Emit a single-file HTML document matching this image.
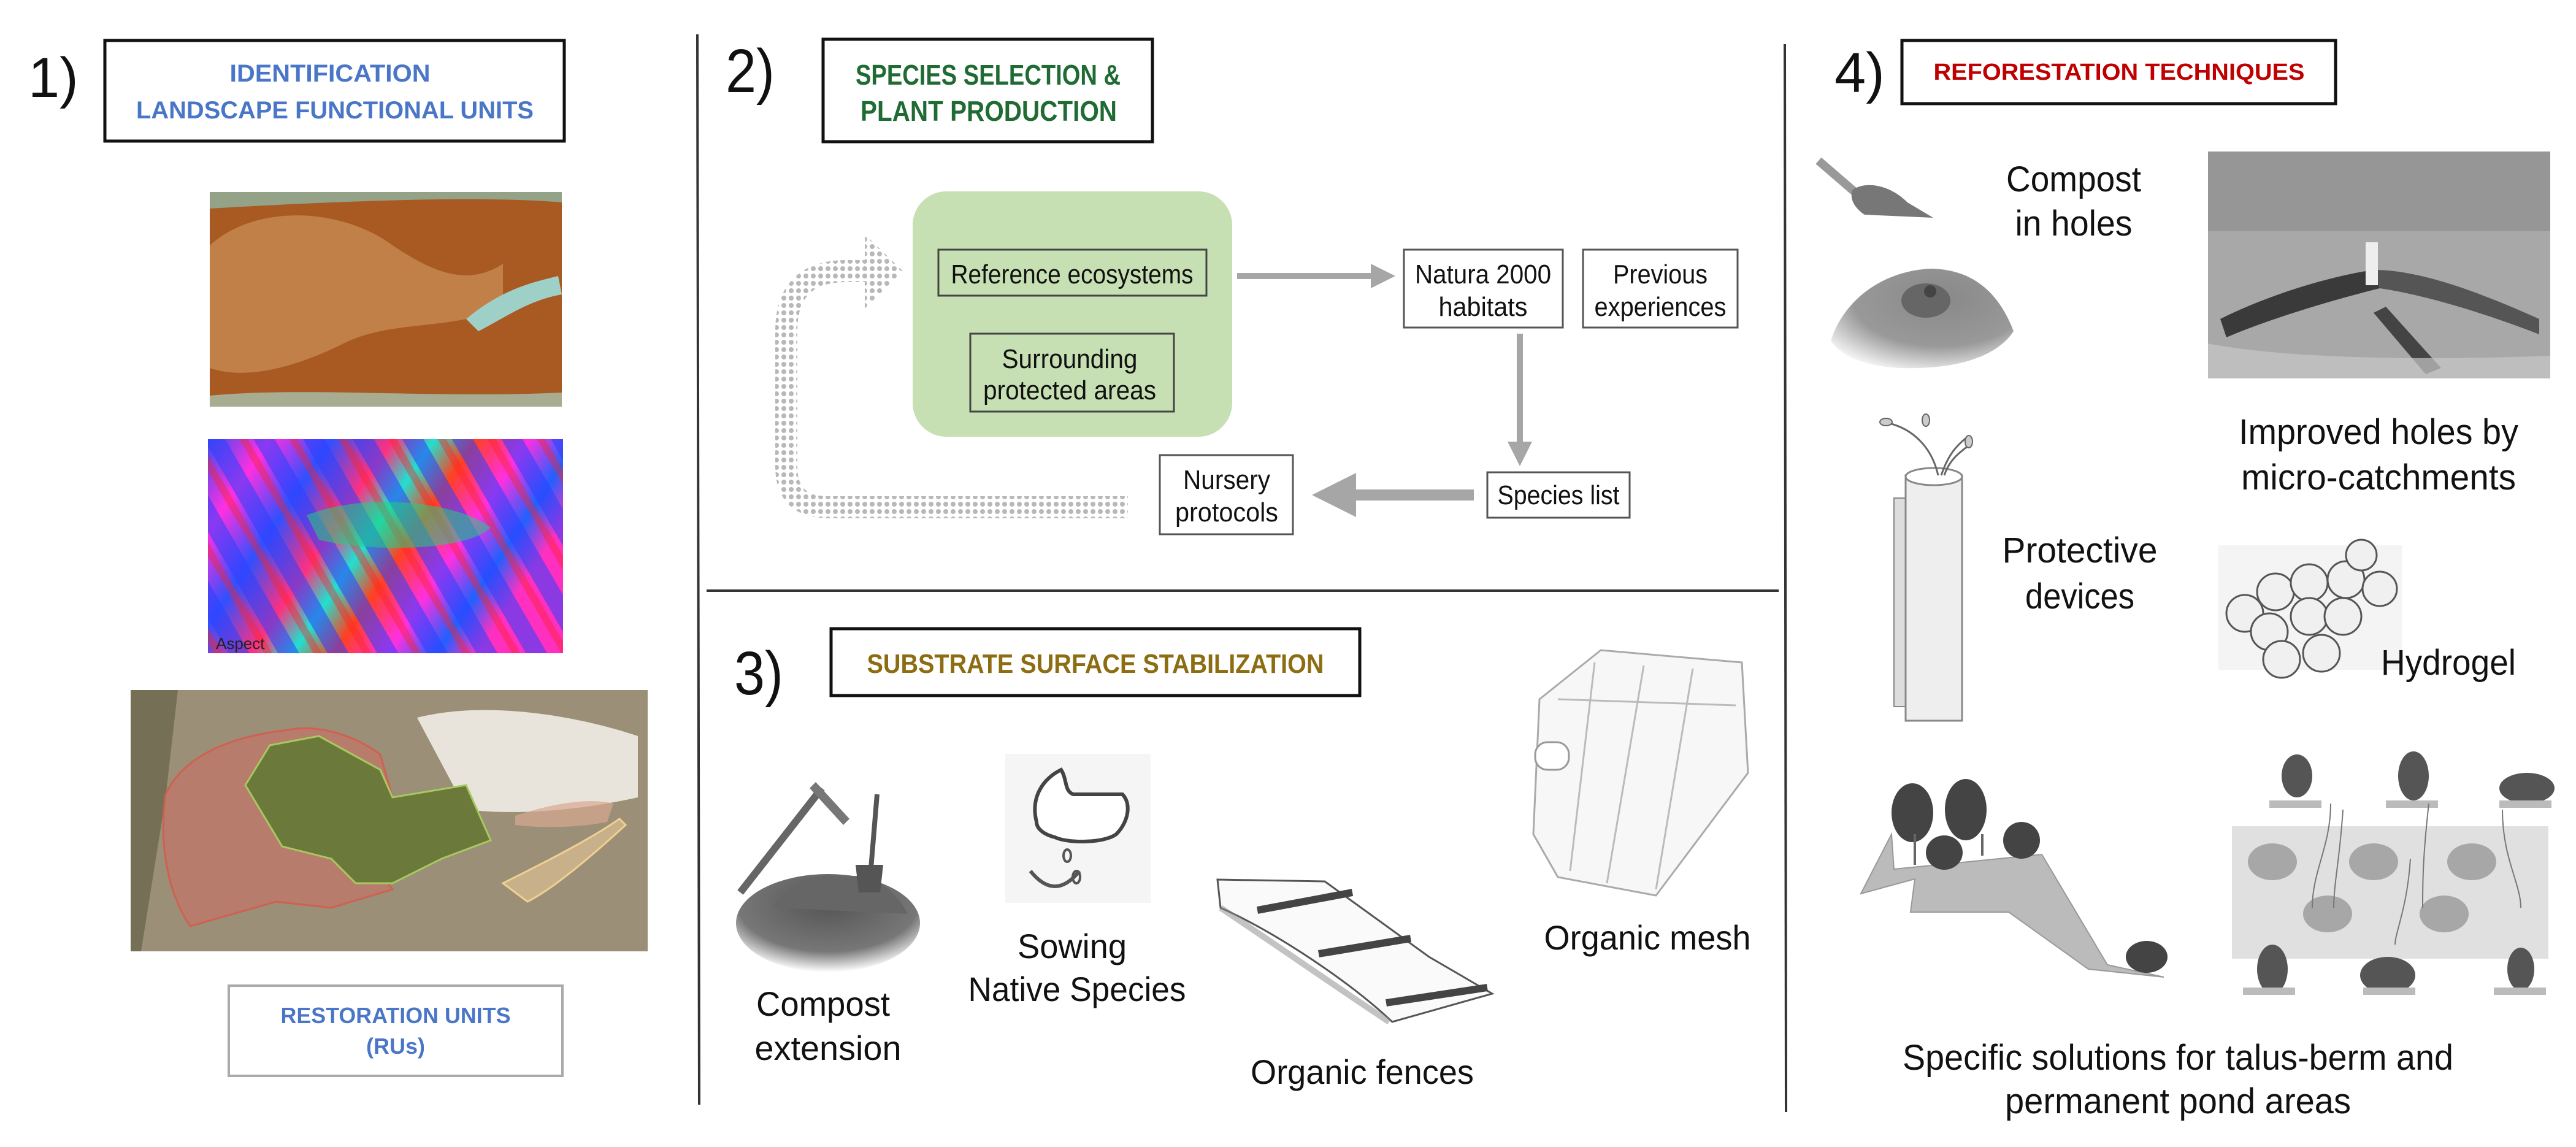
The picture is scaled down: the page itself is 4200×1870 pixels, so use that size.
<!DOCTYPE html>
<html><head><meta charset="utf-8"><style>
html,body{margin:0;padding:0;background:#fff}
svg{display:block}
text{font-family:"Liberation Sans",sans-serif}
</style></head><body>
<svg width="4200" height="1870" viewBox="0 0 4200 1870" xmlns="http://www.w3.org/2000/svg">
<defs>
<linearGradient id="rb" x1="0" y1="0" x2="1" y2="0.4">
<stop offset="0" stop-color="#3a4cf0"/><stop offset="0.15" stop-color="#ff30e0"/><stop offset="0.3" stop-color="#3050ff"/><stop offset="0.45" stop-color="#ff3080"/><stop offset="0.55" stop-color="#20e0d0"/><stop offset="0.65" stop-color="#ff4020"/><stop offset="0.78" stop-color="#ff30e0"/><stop offset="0.9" stop-color="#2060ff"/><stop offset="1" stop-color="#ff30c0"/>
</linearGradient>
<pattern id="stripes" width="70" height="70" patternUnits="userSpaceOnUse" patternTransform="rotate(-30)">
<rect width="70" height="70" fill="#ff30e0" opacity="0"/><rect width="30" height="70" fill="#2a40ff" opacity="0.55"/><rect x="50" width="12" height="70" fill="#ff2020" opacity="0.4"/>
</pattern>
<radialGradient id="soil" cx="0.5" cy="0.3" r="0.7"><stop offset="0" stop-color="#555"/><stop offset="0.7" stop-color="#777"/><stop offset="1" stop-color="#fff"/></radialGradient>
<radialGradient id="bowl" cx="0.6" cy="0.3" r="0.8"><stop offset="0" stop-color="#888"/><stop offset="0.6" stop-color="#999"/><stop offset="1" stop-color="#fff"/></radialGradient>
<pattern id="dots" width="12" height="12" patternUnits="userSpaceOnUse"><rect width="12" height="12" fill="#fff"/><circle cx="6" cy="6" r="4" fill="#b8b8b8"/></pattern>
<marker id="ah" markerWidth="4" markerHeight="4" refX="2" refY="2" orient="auto" markerUnits="strokeWidth"><path d="M0,0 L4,2 L0,4 Z" fill="#a6a6a6"/></marker>
</defs>

<line x1="1137" y1="56" x2="1140" y2="1801" stroke="#333" stroke-width="4"/>
<line x1="2910" y1="72" x2="2912" y2="1813" stroke="#333" stroke-width="4"/>
<line x1="1152" y1="963" x2="2900" y2="963" stroke="#333" stroke-width="4"/>

<!-- Section 1 -->
<text x="46" y="158" font-size="92" fill="#111">1)</text>
<rect x="171" y="66" width="749" height="164" fill="#fff" stroke="#111" stroke-width="5"/>
<text x="538" y="133" font-size="40" font-weight="bold" fill="#4a76c8" text-anchor="middle" textLength="327" lengthAdjust="spacingAndGlyphs">IDENTIFICATION</text>
<text x="546" y="193" font-size="40" font-weight="bold" fill="#4a76c8" text-anchor="middle" textLength="648" lengthAdjust="spacingAndGlyphs">LANDSCAPE FUNCTIONAL UNITS</text>

<rect x="342" y="313" width="574" height="350" fill="#a85a22"/>
<path d="M342,400 C420,330 560,340 640,400 C700,440 760,470 820,430 L820,500 C740,540 640,520 560,560 C480,600 400,620 342,600Z" fill="#c98d55" opacity="0.75"/>
<path d="M760,520 C820,470 870,460 910,450 L916,480 C860,490 820,520 780,540Z" fill="#9fd0c8"/>
<path d="M342,313 L916,313 L916,330 C800,320 600,325 342,340Z" fill="#8cc0b4" opacity="0.7"/>
<path d="M342,645 C500,630 700,650 916,640 L916,663 L342,663Z" fill="#a8d0c0" opacity="0.7"/>

<rect x="339" y="716" width="579" height="349" fill="url(#rb)"/>
<rect x="339" y="716" width="579" height="349" fill="url(#stripes)"/>
<path d="M500,840 C600,800 750,820 800,860 C760,900 600,900 520,880Z" fill="#20d080" opacity="0.55"/>
<text x="352" y="1058" font-size="26" fill="#222">Aspect</text>

<rect x="213" y="1125" width="843" height="426" fill="#8a8068"/>
<rect x="213" y="1125" width="843" height="426" fill="#a69a84" opacity="0.6"/>
<path d="M213,1125 L290,1125 L270,1300 L230,1551 L213,1551Z" fill="#5c5a40" opacity="0.6"/>
<path d="M680,1170 C800,1140 950,1170 1040,1200 L1040,1300 C950,1320 850,1330 760,1320Z" fill="#e8e4dc"/>
<path d="M270,1295 C300,1230 380,1200 470,1190 C520,1180 580,1200 620,1230 L640,1300 L560,1340 L640,1450 L540,1480 L450,1470 L310,1510 C270,1450 260,1370 270,1295Z" fill="#b77c6c" stroke="#d06050" stroke-width="3"/>
<path d="M400,1280 L440,1215 L520,1200 L620,1255 L640,1300 L760,1280 L800,1370 L720,1400 L640,1440 L580,1440 L540,1400 L460,1380Z" fill="#6b7a3a" stroke="#a8c860" stroke-width="3"/>
<path d="M820,1440 C880,1410 960,1370 1010,1335 L1020,1345 C960,1400 900,1450 860,1470 Z" fill="#c8b08a" stroke="#f0d090" stroke-width="3"/>
<path d="M840,1330 C900,1310 960,1300 1000,1310 L990,1340 C940,1350 880,1350 840,1345Z" fill="#d8a890" opacity="0.7"/>

<rect x="373" y="1607" width="544" height="147" fill="#fff" stroke="#aaa" stroke-width="4"/>
<text x="645" y="1668" font-size="36" font-weight="bold" fill="#4a76c8" text-anchor="middle" textLength="375" lengthAdjust="spacingAndGlyphs">RESTORATION UNITS</text>
<text x="645" y="1718" font-size="36" font-weight="bold" fill="#4a76c8" text-anchor="middle">(RUs)</text>

<!-- Section 2 -->
<text x="1183" y="150" font-size="100" fill="#111" textLength="80" lengthAdjust="spacingAndGlyphs">2)</text>
<rect x="1342" y="64" width="537" height="167" fill="#fff" stroke="#111" stroke-width="5"/>
<text x="1611" y="138" font-size="46" font-weight="bold" fill="#1f6b33" text-anchor="middle" textLength="432" lengthAdjust="spacingAndGlyphs">SPECIES SELECTION &amp;</text>
<text x="1612" y="197" font-size="46" font-weight="bold" fill="#1f6b33" text-anchor="middle" textLength="418" lengthAdjust="spacingAndGlyphs">PLANT PRODUCTION</text>

<rect x="1488" y="312" width="521" height="400" rx="55" fill="#c6e0b4"/>
<rect x="1530" y="407" width="437" height="75" fill="none" stroke="#444" stroke-width="3"/>
<text x="1748" y="462" font-size="44" fill="#111" text-anchor="middle" textLength="395" lengthAdjust="spacingAndGlyphs">Reference ecosystems</text>
<rect x="1582" y="544" width="332" height="127" fill="none" stroke="#444" stroke-width="3"/>
<text x="1744" y="600" font-size="44" fill="#111" text-anchor="middle" textLength="221" lengthAdjust="spacingAndGlyphs">Surrounding</text>
<text x="1744" y="651" font-size="44" fill="#111" text-anchor="middle" textLength="282" lengthAdjust="spacingAndGlyphs">protected areas</text>

<rect x="2289" y="407" width="259" height="127" fill="#fff" stroke="#555" stroke-width="3"/>
<text x="2418" y="462" font-size="44" fill="#111" text-anchor="middle" textLength="222" lengthAdjust="spacingAndGlyphs">Natura 2000</text>
<text x="2418" y="515" font-size="44" fill="#111" text-anchor="middle" textLength="145" lengthAdjust="spacingAndGlyphs">habitats</text>
<rect x="2581" y="407" width="252" height="127" fill="#fff" stroke="#555" stroke-width="3"/>
<text x="2707" y="462" font-size="44" fill="#111" text-anchor="middle" textLength="154" lengthAdjust="spacingAndGlyphs">Previous</text>
<text x="2707" y="515" font-size="44" fill="#111" text-anchor="middle" textLength="215" lengthAdjust="spacingAndGlyphs">experiences</text>
<rect x="2425" y="770" width="232" height="74" fill="#fff" stroke="#555" stroke-width="3"/>
<text x="2541" y="822" font-size="44" fill="#111" text-anchor="middle" textLength="199" lengthAdjust="spacingAndGlyphs">Species list</text>
<rect x="1891" y="742" width="217" height="129" fill="#fff" stroke="#555" stroke-width="3"/>
<text x="2000" y="797" font-size="44" fill="#111" text-anchor="middle" textLength="142" lengthAdjust="spacingAndGlyphs">Nursery</text>
<text x="2000" y="850" font-size="44" fill="#111" text-anchor="middle" textLength="168" lengthAdjust="spacingAndGlyphs">protocols</text>

<line x1="2017" y1="450" x2="2255" y2="450" stroke="#a6a6a6" stroke-width="10" marker-end="url(#ah)"/>
<line x1="2478" y1="544" x2="2478" y2="740" stroke="#a6a6a6" stroke-width="10" marker-end="url(#ah)"/>
<line x1="2403" y1="807" x2="2175" y2="807" stroke="#a6a6a6" stroke-width="18" marker-end="url(#ah)"/>

<path d="M1839,827 L1350,827 Q1282,827 1282,760 L1282,540 Q1282,442 1380,442 L1420,442" fill="none" stroke="url(#dots)" stroke-width="36"/>
<path d="M1410,382 L1472,442 L1410,503 Z" fill="url(#dots)"/>

<!-- Section 3 -->
<text x="1197" y="1132" font-size="100" fill="#111" textLength="80" lengthAdjust="spacingAndGlyphs">3)</text>
<rect x="1355" y="1025" width="862" height="109" fill="#fff" stroke="#111" stroke-width="5"/>
<text x="1786" y="1097" font-size="44" font-weight="bold" fill="#8c6d12" text-anchor="middle" textLength="745" lengthAdjust="spacingAndGlyphs">SUBSTRATE SURFACE STABILIZATION</text>

<ellipse cx="1350" cy="1505" rx="150" ry="80" fill="url(#soil)"/>
<path d="M1260,1480 C1280,1440 1330,1420 1380,1430 C1420,1420 1460,1450 1480,1490 Z" fill="#666"/>
<line x1="1207" y1="1455" x2="1340" y2="1285" stroke="#666" stroke-width="12"/>
<path d="M1330,1275 L1385,1335 L1375,1345 L1320,1285Z" fill="#777"/>
<line x1="1430" y1="1295" x2="1418" y2="1440" stroke="#555" stroke-width="8"/>
<path d="M1395,1410 L1440,1410 L1435,1455 L1400,1455Z" fill="#555"/>
<text x="1342" y="1656" font-size="56" fill="#111" text-anchor="middle" textLength="218" lengthAdjust="spacingAndGlyphs">Compost</text>
<text x="1350" y="1728" font-size="56" fill="#111" text-anchor="middle" textLength="239" lengthAdjust="spacingAndGlyphs">extension</text>

<rect x="1639" y="1229" width="237" height="243" fill="#f5f5f5"/>
<path d="M1690,1340 C1680,1300 1700,1270 1730,1255 C1740,1270 1735,1290 1750,1295 L1830,1295 C1845,1310 1840,1340 1820,1360 C1800,1375 1740,1375 1720,1365 C1700,1360 1690,1350 1690,1340Z" fill="#fff" stroke="#444" stroke-width="6"/>
<path d="M1680,1420 Q1720,1470 1760,1420" fill="none" stroke="#555" stroke-width="6"/>
<ellipse cx="1740" cy="1395" rx="6" ry="10" fill="none" stroke="#555" stroke-width="4"/>
<ellipse cx="1755" cy="1430" rx="6" ry="10" fill="none" stroke="#555" stroke-width="4"/>
<text x="1748" y="1562" font-size="56" fill="#111" text-anchor="middle" textLength="178" lengthAdjust="spacingAndGlyphs">Sowing</text>
<text x="1756" y="1632" font-size="56" fill="#111" text-anchor="middle" textLength="355" lengthAdjust="spacingAndGlyphs">Native Species</text>

<path d="M1985,1434 L2160,1437 L2330,1560 L2433,1620 L2270,1666 C2200,1600 2080,1520 1990,1480Z" fill="#fafafa" stroke="#555" stroke-width="3"/>
<path d="M1990,1480 C2080,1540 2180,1610 2265,1666" fill="none" stroke="#888" stroke-width="10" opacity="0.5"/>
<line x1="2050" y1="1484" x2="2205" y2="1455" stroke="#444" stroke-width="12"/>
<line x1="2150" y1="1555" x2="2300" y2="1530" stroke="#444" stroke-width="12"/>
<line x1="2260" y1="1635" x2="2425" y2="1610" stroke="#444" stroke-width="12"/>
<text x="2221" y="1767" font-size="56" fill="#111" text-anchor="middle" textLength="364" lengthAdjust="spacingAndGlyphs">Organic fences</text>

<path d="M2510,1140 L2610,1060 L2840,1080 L2850,1260 L2700,1460 L2540,1430 L2500,1360Z" fill="#f7f7f7" stroke="#aaa" stroke-width="3"/>
<path d="M2600,1080 L2560,1420 M2680,1085 L2620,1440 M2760,1090 L2700,1450 M2540,1140 L2830,1150" stroke="#bbb" stroke-width="3" fill="none"/>
<rect x="2503" y="1210" width="55" height="45" rx="20" fill="#fff" stroke="#999" stroke-width="3"/>
<text x="2686" y="1548" font-size="56" fill="#111" text-anchor="middle" textLength="337" lengthAdjust="spacingAndGlyphs">Organic mesh</text>

<!-- Section 4 -->
<text x="2991" y="150" font-size="92" fill="#111">4)</text>
<rect x="3101" y="66" width="707" height="103" fill="#fff" stroke="#111" stroke-width="5"/>
<text x="3455" y="130" font-size="38" font-weight="bold" fill="#c00000" text-anchor="middle" textLength="605" lengthAdjust="spacingAndGlyphs">REFORESTATION TECHNIQUES</text>

<line x1="2965" y1="262" x2="3030" y2="318" stroke="#999" stroke-width="14"/>
<path d="M3020,310 C3040,295 3080,300 3110,330 L3152,355 L3040,350 C3025,340 3015,325 3020,310Z" fill="#777"/>
<path d="M2985,555 C3010,480 3080,440 3150,438 C3220,440 3260,480 3283,540 C3250,590 3170,602 3100,600 C3040,598 3000,580 2985,555Z" fill="url(#bowl)"/>
<ellipse cx="3140" cy="490" rx="40" ry="28" fill="#666"/>
<circle cx="3147" cy="475" r="10" fill="#444"/>
<text x="3381" y="312" font-size="58" fill="#111" text-anchor="middle" textLength="220" lengthAdjust="spacingAndGlyphs">Compost</text>
<text x="3381" y="384" font-size="58" fill="#111" text-anchor="middle" textLength="191" lengthAdjust="spacingAndGlyphs">in holes</text>

<rect x="3600" y="247" width="558" height="370" fill="#a8a8a8"/>
<rect x="3600" y="247" width="558" height="130" fill="#8a8a8a" opacity="0.6"/>
<path d="M3620,520 C3700,480 3800,450 3870,440 L3880,470 C3800,490 3700,520 3630,550Z" fill="#3a3a3a"/>
<path d="M3870,440 C3950,440 4050,480 4140,520 L4140,545 C4050,510 3950,480 3880,470Z" fill="#555"/>
<path d="M3890,500 L3980,600 L3955,610 L3870,510Z" fill="#444"/>
<rect x="3857" y="395" width="20" height="70" fill="#eee"/>
<path d="M3600,560 C3700,580 3900,590 4158,580 L4158,617 L3600,617Z" fill="#c8c8c8" opacity="0.7"/>
<text x="3878" y="724" font-size="58" fill="#111" text-anchor="middle" textLength="456" lengthAdjust="spacingAndGlyphs">Improved holes by</text>
<text x="3878" y="798" font-size="58" fill="#111" text-anchor="middle" textLength="448" lengthAdjust="spacingAndGlyphs">micro-catchments</text>

<rect x="3088" y="812" width="22" height="340" fill="#ddd" stroke="#888" stroke-width="2"/>
<rect x="3107" y="775" width="92" height="400" fill="#eee" stroke="#888" stroke-width="3"/>
<ellipse cx="3153" cy="777" rx="46" ry="14" fill="#fff" stroke="#888" stroke-width="3"/>
<path d="M3160,775 C3150,730 3120,700 3080,690 M3165,775 C3180,730 3200,720 3210,710 M3170,775 C3180,745 3200,735 3215,722" fill="none" stroke="#666" stroke-width="3"/>
<ellipse cx="3075" cy="688" rx="10" ry="6" fill="#ccc" stroke="#666" stroke-width="2"/>
<ellipse cx="3140" cy="685" rx="6" ry="10" fill="#ccc" stroke="#666" stroke-width="2"/>
<ellipse cx="3210" cy="720" rx="6" ry="10" fill="#ccc" stroke="#666" stroke-width="2"/>
<text x="3391" y="917" font-size="58" fill="#111" text-anchor="middle" textLength="253" lengthAdjust="spacingAndGlyphs">Protective</text>
<text x="3391" y="992" font-size="58" fill="#111" text-anchor="middle" textLength="178" lengthAdjust="spacingAndGlyphs">devices</text>

<rect x="3617" y="889" width="299" height="203" fill="#f4f4f4"/>
<g fill="#f0f0f0" stroke="#555" stroke-width="3">
<circle cx="3660" cy="1000" r="30"/><circle cx="3710" cy="965" r="30"/><circle cx="3765" cy="950" r="30"/><circle cx="3825" cy="945" r="30"/><circle cx="3880" cy="960" r="28"/><circle cx="3850" cy="905" r="25"/>
<circle cx="3700" cy="1030" r="30"/><circle cx="3765" cy="1005" r="30"/><circle cx="3820" cy="1005" r="30"/><circle cx="3720" cy="1075" r="30"/><circle cx="3785" cy="1065" r="30"/>
</g>
<text x="3992" y="1100" font-size="58" fill="#111" text-anchor="middle" textLength="220" lengthAdjust="spacingAndGlyphs">Hydrogel</text>

<path d="M3034,1457 L3084,1360 L3088,1417 L3329,1393 L3436,1573 L3528,1593 L3405,1580 L3275,1487 L3115,1487 L3122,1433 Z" fill="#bbb" stroke="#999" stroke-width="2"/>
<g fill="#444">
<ellipse cx="3118" cy="1325" rx="34" ry="48"/><ellipse cx="3205" cy="1320" rx="34" ry="50"/>
<ellipse cx="3170" cy="1390" rx="30" ry="28"/><ellipse cx="3296" cy="1370" rx="30" ry="30"/>
<ellipse cx="3500" cy="1560" rx="34" ry="26"/>
</g>
<line x1="3122" y1="1360" x2="3122" y2="1410" stroke="#666" stroke-width="4"/>
<line x1="3232" y1="1360" x2="3232" y2="1395" stroke="#666" stroke-width="4"/>

<rect x="3639" y="1347" width="516" height="216" fill="#e0e0e0"/>
<g fill="#999" opacity="0.8">
<ellipse cx="3705" cy="1405" rx="40" ry="30"/><ellipse cx="3870" cy="1405" rx="40" ry="30"/><ellipse cx="4030" cy="1405" rx="40" ry="30"/>
<ellipse cx="3795" cy="1490" rx="40" ry="30"/><ellipse cx="3985" cy="1490" rx="40" ry="30"/>
</g>
<g fill="#555">
<ellipse cx="3745" cy="1265" rx="25" ry="35"/><ellipse cx="3935" cy="1265" rx="25" ry="40"/><ellipse cx="4120" cy="1285" rx="45" ry="25"/>
<ellipse cx="3705" cy="1580" rx="25" ry="40"/><ellipse cx="3893" cy="1590" rx="45" ry="30"/><ellipse cx="4110" cy="1580" rx="22" ry="35"/>
</g>
<g fill="#bbb">
<rect x="3700" y="1305" width="85" height="12"/><rect x="3890" y="1305" width="85" height="12"/><rect x="4075" y="1305" width="85" height="12"/>
<rect x="3657" y="1610" width="85" height="12"/><rect x="3853" y="1610" width="85" height="12"/><rect x="4066" y="1610" width="85" height="12"/>
</g>
<g stroke="#777" stroke-width="2" fill="none">
<path d="M3800,1310 C3800,1380 3770,1420 3770,1480"/><path d="M3820,1320 C3815,1400 3805,1440 3805,1480"/><path d="M3960,1310 C3950,1400 3950,1440 3950,1480"/><path d="M3930,1400 C3925,1480 3905,1520 3905,1540"/><path d="M4080,1320 C4080,1400 4110,1440 4110,1480"/>
</g>

<text x="3551" y="1744" font-size="58" fill="#111" text-anchor="middle" textLength="898" lengthAdjust="spacingAndGlyphs">Specific solutions for talus-berm and</text>
<text x="3551" y="1815" font-size="58" fill="#111" text-anchor="middle" textLength="564" lengthAdjust="spacingAndGlyphs">permanent pond areas</text>
</svg>
</body></html>
